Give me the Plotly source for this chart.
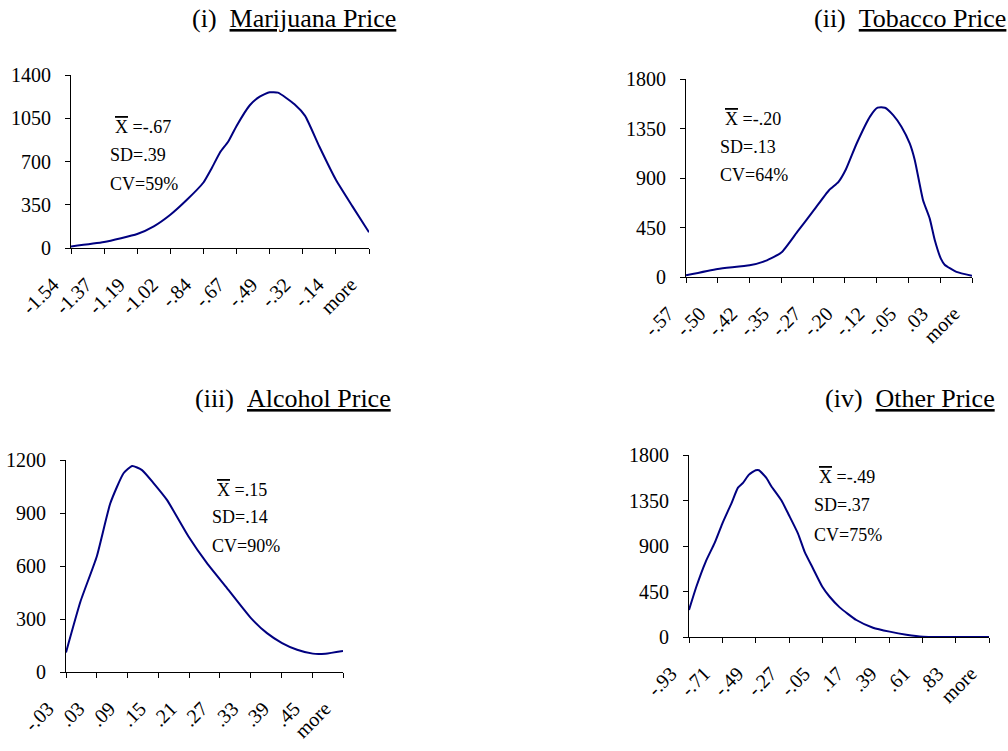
import plotly.graph_objects as go

W, H = 1008, 751

# ---------------- data ----------------
mj_labels = ["-1.54", "-1.37", "-1.19", "-1.02", "-.84", "-.67", "-.49", "-.32", "-.14", "more"]
mj_pos = [0, 1, 2, 2.5, 3, 3.5, 4, 4.25, 4.5, 4.75, 5, 5.4, 5.7, 6, 6.25, 6.75, 7.07, 7.5, 8, 8.5, 9]
mj_count = [13, 48, 113, 175, 269, 390, 530, 646, 773, 862, 988, 1155, 1225, 1260, 1257, 1163, 1069, 821, 552, 337, 127]

tb_labels = ["-.57", "-.50", "-.42", "-.35", "-.27", "-.20", "-.12", "-.05", ".03", "more"]
tb_pos = [0, 1, 2, 2.5, 3, 3.5, 4, 4.5, 4.8, 5.03, 5.37, 5.8, 6.03, 6.26, 6.52, 6.78, 7.04, 7.2,
          7.46, 7.67, 7.83, 8.02, 8.14, 8.51, 9]
tb_count = [15, 73, 106, 146, 222, 410, 598, 789, 865, 977, 1214, 1463, 1539, 1539, 1472, 1366, 1214, 1062,
            698, 531, 334, 167, 112, 46, 12]

al_labels = ["-.03", ".03", ".09", ".15", ".21", ".27", ".33", ".39", ".45", "more"]
al_pos = [0, 0.47, 1, 1.44, 1.87, 2.15, 2.47, 2.85, 3.28, 3.98, 4.58, 5.23, 6.01, 6.53, 7.02, 7.51, 8.02, 8.43, 9]
al_count = [111, 399, 654, 955, 1125, 1166, 1143, 1068, 974, 767, 616, 475, 305, 220, 164, 126, 104, 104, 119]

ot_labels = ["-.93", "-.71", "-.49", "-.27", "-.05", ".17", ".39", ".61", ".83", "more"]
ot_pos = [0, 0.22, 0.5, 0.77, 1, 1.27, 1.47, 1.62, 1.8, 2, 2.1, 2.32, 2.47, 2.77, 3, 3.27, 3.47, 3.72,
          4, 4.22, 4.52, 5.02, 5.52, 6.02, 6.52, 7.02, 8, 9]
ot_count = [267, 497, 744, 931, 1122, 1320, 1477, 1524, 1606, 1649, 1649, 1573, 1491, 1352, 1204, 1023, 842, 678,
            497, 398, 293, 168, 92, 53, 23, 3, 0, 0]

titles = ["(i)", "(ii)", "(iii)", "(iv)"]
names = ["Marijuana Price", "Tobacco Price", "Alcohol Price", "Other Price"]
means = ["=-.67", "=-.20", "=.15", "=-.49"]
sds = ["SD=.39", "SD=.13", "SD=.14", "SD=.37"]
cvs = ["CV=59%", "CV=64%", "CV=90%", "CV=75%"]
y_max = [1400, 1800, 1200, 1800]
y_step = [350, 450, 300, 450]

panels = [(mj_pos, mj_count, mj_labels), (tb_pos, tb_count, tb_labels),
          (al_pos, al_count, al_labels), (ot_pos, ot_count, ot_labels)]

# ---------------- layout (pixel geometry) ----------------
plot_px = [(71, 369, 75, 248), (686, 972, 79, 277), (66, 343, 460, 672), (689, 989, 455, 637)]
title_px = [(190, 19), (812, 19), (193, 399), (823, 399)]
stat_px = [(108, 127, 155, 184), (718, 119, 147, 175), (210, 490, 517, 546), (812, 477, 505, 535)]

FONT = "Liberation Serif, Times New Roman, serif"
LINE = "#000080"

fig = go.Figure()
layout = dict(width=W, height=H, margin=dict(l=0, r=0, t=0, b=0, autoexpand=False),
              paper_bgcolor="white", plot_bgcolor="white", showlegend=False,
              font=dict(family=FONT, color="black", size=20))
annotations = []

for i, (pos, cnt, labels) in enumerate(panels):
    n = i + 1
    xs = "" if n == 1 else str(n)
    fig.add_trace(go.Scatter(x=pos, y=cnt, mode="lines",
                             line=dict(color=LINE, width=2, shape="spline", smoothing=0.5),
                             xaxis="x" + xs, yaxis="y" + xs, hoverinfo="skip"))
    x0, x1, y0, y1 = plot_px[i]
    xd = [x0 / W, x1 / W]
    yd = [1 - y1 / H, 1 - y0 / H]
    ticks_y = list(range(0, y_max[i] + 1, y_step[i]))
    common_x = dict(domain=xd, range=[0, len(labels) - 1], tickmode="array",
                    tickvals=list(range(len(labels))), showgrid=False, zeroline=False,
                    tickcolor="black", ticklen=5, tickwidth=1, automargin=False)
    common_y = dict(domain=yd, range=[0, y_max[i]], tickmode="array", tickvals=ticks_y,
                    showgrid=False, zeroline=False, tickcolor="black", ticklen=5, tickwidth=1,
                    automargin=False)
    layout["xaxis" + xs] = dict(common_x, anchor="y" + xs, ticktext=labels, ticks="outside",
                                tickangle=-45, showline=True, linecolor="black", linewidth=1,
                                tickfont=dict(size=20, family=FONT, color="black"),
                                ticklabelstandoff=11, ticklabelshift=-18)
    layout["yaxis" + xs] = dict(common_y, anchor="x" + xs, ticktext=[str(v) for v in ticks_y],
                                ticks="outside", showline=True, linecolor="black", linewidth=1,
                                tickfont=dict(size=20, family=FONT, color="black"),
                                ticklabelstandoff=10)
    # overlay axes to make the ticks cross the axis lines
    m = n + 4
    layout["xaxis" + str(m)] = dict(common_x, overlaying="x" + xs, anchor="y" + xs, ticks="inside",
                                    showticklabels=False, showline=False)
    layout["yaxis" + str(m)] = dict(common_y, overlaying="y" + xs, anchor="x" + xs, ticks="inside",
                                    showticklabels=False, showline=False, side="left")

    tx, ty = title_px[i]
    annotations.append(dict(xref="paper", yref="paper", x=tx / W, y=1 - ty / H,
                            xanchor="left", yanchor="middle", showarrow=False,
                            text=titles[i] + "\u00a0\u00a0<u>" + names[i] + "</u>",
                            font=dict(size=26, family=FONT, color="black")))
    sx, sy1, sy2, sy3 = stat_px[i]
    annotations.append(dict(xref="paper", yref="paper", x=(sx + 5) / W, y=1 - sy1 / H,
                            xanchor="left", yanchor="middle", showarrow=False,
                            text="<span style='text-decoration:overline'>X</span>\u00a0" + means[i],
                            font=dict(size=18, family=FONT, color="black")))
    annotations.append(dict(xref="paper", yref="paper", x=sx / W, y=1 - sy2 / H,
                            xanchor="left", yanchor="middle", showarrow=False, text=sds[i],
                            font=dict(size=18, family=FONT, color="black")))
    annotations.append(dict(xref="paper", yref="paper", x=sx / W, y=1 - sy3 / H,
                            xanchor="left", yanchor="middle", showarrow=False, text=cvs[i],
                            font=dict(size=18, family=FONT, color="black")))

layout["annotations"] = annotations
fig.update_layout(**layout)
fig.write_html("out.html")
